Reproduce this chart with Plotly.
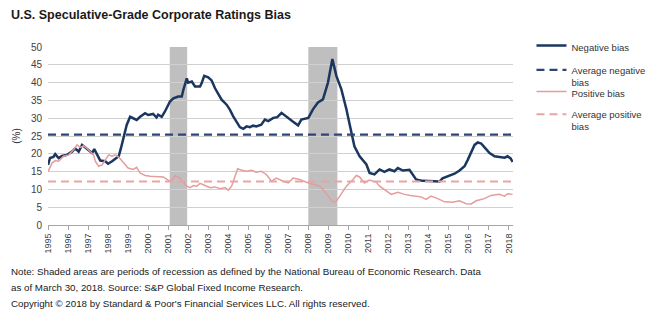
import plotly.graph_objects as go

# ---------------- data ----------------
neg_x = [1995.0, 1995.1, 1995.27, 1995.36, 1995.53, 1995.7, 1995.95, 1996.2, 1996.36, 1996.53,
         1996.7, 1996.86, 1997.03, 1997.2, 1997.31, 1997.45, 1997.61, 1997.86, 1998.0, 1998.2,
         1998.36, 1998.53, 1998.64, 1998.77, 1998.93, 1999.1, 1999.26, 1999.43, 1999.6, 1999.85,
         2000.0, 2000.25, 2000.42, 2000.5, 2000.68, 2000.84, 2001.09, 2001.26, 2001.5, 2001.68,
         2001.76, 2001.93, 2002.0, 2002.18, 2002.34, 2002.59, 2002.67, 2002.8, 2003.0, 2003.17,
         2003.34, 2003.5, 2003.67, 2003.92, 2004.08, 2004.25, 2004.42, 2004.58, 2004.75, 2004.92,
         2005.08, 2005.24, 2005.4, 2005.65, 2005.83, 2006.0, 2006.25, 2006.45, 2006.66, 2006.9,
         2007.24, 2007.49, 2007.65, 2008.0, 2008.23, 2008.48, 2008.73, 2008.98, 2009.1, 2009.2,
         2009.4, 2009.65, 2009.9, 2010.15, 2010.3, 2010.56, 2010.9, 2011.06, 2011.3, 2011.56,
         2011.8, 2012.05, 2012.3, 2012.47, 2012.72, 2013.05, 2013.2, 2013.38, 2013.7, 2014.2,
         2014.55, 2014.7, 2015.05, 2015.3, 2015.55, 2015.8, 2015.96, 2016.13, 2016.3, 2016.46,
         2016.63, 2016.8, 2017.05, 2017.3, 2017.54, 2017.8, 2017.95, 2018.1, 2018.2]
neg_bias = [16.9, 18.8, 19.1, 19.9, 18.8, 19.4, 19.7, 20.6, 21.5, 20.6,
            22.5, 21.8, 21.1, 20.2, 21.3, 19.7, 18.1, 17.9, 17.2, 17.9,
            18.5, 19.3, 21.5, 24.8, 28.1, 30.4, 30.0, 29.5, 30.4, 31.4,
            30.9, 31.2, 30.2, 31.0, 30.4, 31.9, 34.7, 35.6, 36.1, 36.1,
            38.0, 41.2, 40.0, 40.3, 38.9, 38.9, 39.8, 41.9, 41.5, 40.6,
            38.4, 37.0, 35.2, 33.8, 32.4, 30.5, 29.1, 27.5, 27.0, 27.7,
            27.5, 27.9, 27.7, 28.2, 29.6, 29.2, 30.1, 30.3, 31.5, 30.4,
            29.0, 28.0, 29.6, 30.1, 32.5, 34.4, 35.3, 40.0, 43.8, 46.6,
            41.9, 38.1, 32.5, 25.9, 22.1, 19.3, 17.0, 14.6, 14.2, 15.6,
            14.9, 15.6, 15.1, 16.0, 15.3, 15.5, 14.2, 12.8, 12.4, 12.4,
            12.2, 13.1, 13.8, 14.4, 15.3, 16.5, 18.3, 20.6, 22.5, 23.2,
            22.9, 21.8, 20.2, 19.3, 19.1, 18.9, 19.3, 18.7, 17.7]

pos_x = [1995.0, 1995.2, 1995.36, 1995.53, 1995.78, 1996.03, 1996.28, 1996.45, 1996.6, 1996.78,
         1996.95, 1997.1, 1997.28, 1997.36, 1997.53, 1997.7, 1997.86, 1998.03, 1998.2, 1998.36,
         1998.53, 1998.78, 1999.0, 1999.26, 1999.43, 1999.6, 1999.85, 2000.1, 2000.42, 2000.76,
         2001.0, 2001.17, 2001.34, 2001.59, 2001.76, 2001.93, 2002.1, 2002.26, 2002.43, 2002.59,
         2002.84, 2003.1, 2003.34, 2003.59, 2003.84, 2004.0, 2004.17, 2004.33, 2004.47, 2004.67,
         2004.92, 2005.16, 2005.4, 2005.65, 2005.9, 2006.16, 2006.4, 2006.75, 2007.0, 2007.24,
         2007.57, 2007.9, 2008.23, 2008.57, 2008.81, 2009.07, 2009.23, 2009.4, 2009.65, 2009.9,
         2010.23, 2010.4, 2010.56, 2010.8, 2011.05, 2011.4, 2011.56, 2011.89, 2012.14, 2012.47,
         2012.8, 2013.1, 2013.63, 2013.88, 2014.13, 2014.46, 2014.8, 2015.2, 2015.55, 2015.88,
         2016.13, 2016.38, 2016.79, 2017.12, 2017.54, 2017.8, 2017.95, 2018.2]
pos_bias = [15.0, 17.4, 18.1, 17.9, 19.3, 19.7, 21.1, 22.5, 21.8, 22.2,
            21.5, 20.6, 19.7, 17.9, 16.5, 16.9, 18.3, 19.7, 19.3, 19.7,
            19.1, 17.4, 16.0, 15.6, 16.2, 14.6, 13.9, 13.7, 13.7, 13.5,
            12.6, 12.4, 13.9, 13.2, 12.0, 10.9, 10.5, 11.1, 10.9, 11.7,
            11.1, 10.5, 10.7, 10.2, 10.5, 9.8, 10.9, 13.7, 15.8, 15.4,
            15.1, 15.4, 14.8, 15.1, 14.2, 12.3, 13.2, 12.3, 11.8, 13.2,
            12.8, 12.0, 11.4, 10.9, 9.5, 7.6, 6.4, 6.7, 9.0, 10.9,
            12.8, 13.9, 13.5, 11.8, 12.6, 12.0, 10.9, 9.5, 8.6, 9.2,
            8.6, 8.3, 7.9, 7.2, 8.1, 7.4, 6.5, 6.4, 6.8, 6.0,
            5.9, 6.8, 7.4, 8.3, 8.6, 8.1, 8.8, 8.6]

avg_x = [1995.0, 2018.2]
avg_negative = [25.4, 25.4]
avg_positive = [12.2, 12.2]

recessions = [(2001.08, 2001.95), (2008.0, 2009.45)]
years = list(range(1995, 2019))
year_labels = [str(y) for y in years]

# ---------------- figure ----------------
NAVY = "#1b365f"
NAVY_D = "#2c4677"
PINK = "#e59c9c"
PINK_D = "#e9a5a5"
LFONT = dict(family="Liberation Sans, Arial, sans-serif", size=9.5, color="#333333")

fig = go.Figure()
fig.add_trace(go.Scatter(x=neg_x, y=neg_bias, mode="lines", name="Negative bias",
                         line=dict(color=NAVY, width=2.5), legend="legend"))
fig.add_trace(go.Scatter(x=avg_x, y=avg_negative, mode="lines", name="Average negative<br>bias",
                         line=dict(color=NAVY_D, width=2.4, dash="8px,5px"), legend="legend2"))
fig.add_trace(go.Scatter(x=pos_x, y=pos_bias, mode="lines", name="Positive bias",
                         line=dict(color=PINK, width=1.5), legend="legend3"))
fig.add_trace(go.Scatter(x=avg_x, y=avg_positive, mode="lines", name="Average positive<br>bias",
                         line=dict(color=PINK_D, width=2, dash="8px,5px"), legend="legend4"))

for (a, b) in recessions:
    fig.add_vrect(x0=a, x1=b, fillcolor="#bfbfbf", opacity=1, line_width=0, layer="below")

W, H = 664, 324
L, R, T, B = 47.7, 150.5, 47.3, 98.7
pw = W - L - R
ph = H - T - B


def px2paper_x(px):
    return (px - L) / pw


def py2paper_y(py):
    return (H - B - py) / ph


def leg(py):
    return dict(x=px2paper_x(532), y=py2paper_y(py), xanchor="left", yanchor="top",
                xref="paper", yref="paper", font=LFONT, bgcolor="rgba(0,0,0,0)",
                borderwidth=0, valign="top", itemwidth=30, tracegroupgap=0)


fig.update_layout(
    width=W, height=H,
    margin=dict(l=L, r=R, t=T, b=B, pad=0),
    paper_bgcolor="white", plot_bgcolor="white",
    font=dict(family="Liberation Sans, Arial, sans-serif", color="#404040"),
    showlegend=True,
    legend=leg(33),
    legend2=leg(57.5),
    legend3=leg(79),
    legend4=leg(102),
    xaxis=dict(range=[1995, 2018.22], tickmode="array", tickvals=years, ticktext=year_labels,
               tickangle=-90, tickfont=dict(size=9, color="#404040"),
               showgrid=False, zeroline=False, showline=True, linecolor="#a6a6a6", linewidth=1,
               ticks="outside", ticklen=4, tickcolor="#a6a6a6"),
    yaxis=dict(range=[0, 50], dtick=5, tickfont=dict(size=10, color="#404040"),
               showgrid=True, gridcolor="#d0d0d0", gridwidth=1, zeroline=False,
               showline=False, ticks="", ticklabelstandoff=5,
               title=dict(text="(%)", font=dict(size=10, color="#333333"), standoff=8)),
)

fig.add_annotation(text="U.S. Speculative-Grade Corporate Ratings Bias", xref="paper", yref="paper",
                   x=px2paper_x(9), y=py2paper_y(6), xanchor="left", yanchor="top", showarrow=False,
                   font=dict(family="Liberation Sans, Arial, sans-serif", size=12.5, color="#1a1a1a",
                             weight="bold"))

notes = ["Note: Shaded areas are periods of recession as defined by the National Bureau of Economic Research. Data",
         "as of March 30, 2018. Source: S&amp;P Global Fixed Income Research.",
         "Copyright © 2018 by Standard &amp; Poor's Financial Services LLC. All rights reserved."]
for i, (t, yy) in enumerate(zip(notes, [272, 288, 304])):
    fig.add_annotation(text=t, xref="paper", yref="paper", x=px2paper_x(9), y=py2paper_y(yy),
                       xanchor="left", yanchor="middle", showarrow=False,
                       font=dict(family="Liberation Sans, Arial, sans-serif", size=9.75, color="#1a1a1a"))

fig.write_html("out.html")
